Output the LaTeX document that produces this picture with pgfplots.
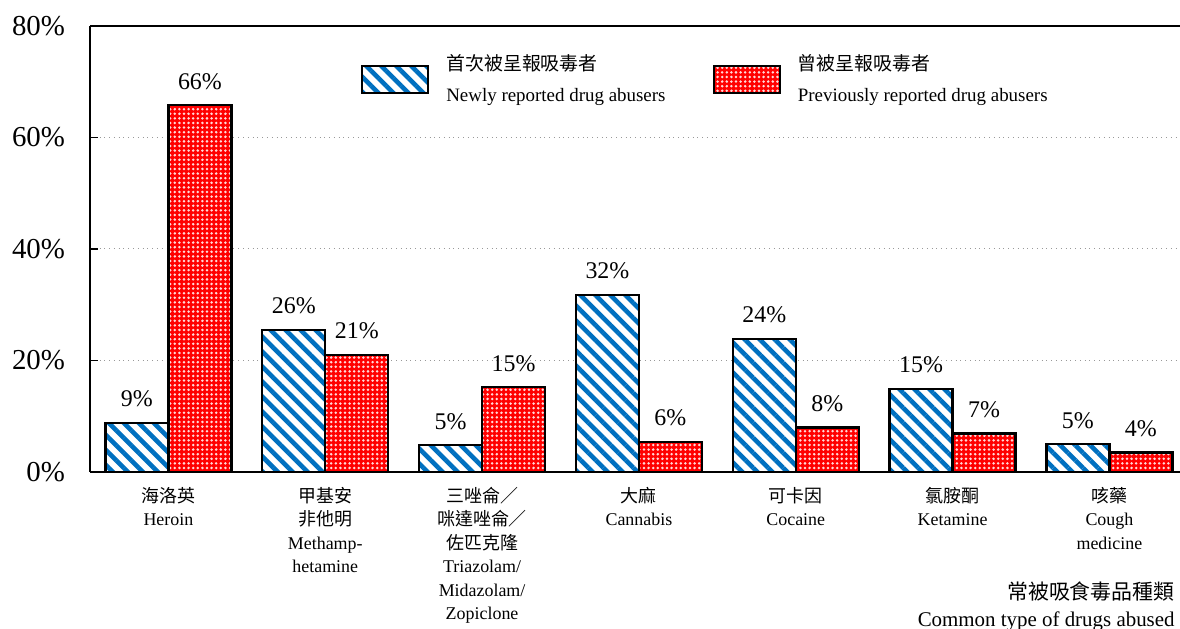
\documentclass[border=0pt]{standalone}
\usepackage{fontspec}
\setmainfont{Liberation Serif}
\newfontfamily\cjk{Noto Sans CJK TC}
\usepackage{pgfplots}
\pgfplotsset{compat=1.18}
\usetikzlibrary{patterns.meta,calc}
\definecolor{barblue}{HTML}{0070C0}
\definecolor{barred}{HTML}{FF0000}
\begin{document}
\begin{tikzpicture}
\begin{axis}[
  name=ax,
  scale only axis,
  width=545bp, height=223bp,
  xmin=-0.5, xmax=6.45,
  ymin=0, ymax=80,
  ybar=0pt, bar width=31.5bp,
  legend image code/.code={\draw[#1] (0bp,-6.75bp) rectangle (33bp,6.75bp);},
  axis x line*=box, axis y line*=left,
  axis line style={line width=1.2bp, -},
  ytick={0,20,40,60,80},
  yticklabels={0\%,20\%,40\%,60\%,80\%},
  yticklabel style={font=\fontsize{14.5}{16}\selectfont, xshift=-9bp},
  ymajorgrids, grid style={gray!80, dotted, line width=0.5bp},
  tick align=inside, major tick length=4bp,
  ytick style={line width=0.6bp, black},
  xtick={0,...,6},
  xtick style={draw=none},
  xticklabels={
    {{\cjk 海洛英}\\Heroin},
    {{\cjk 甲基安}\\{\cjk 非他明}\\Methamp-\\hetamine},
    {{\cjk 三唑侖／}\\{\cjk 咪達唑侖／}\\{\cjk 佐匹克隆}\\Triazolam/\\Midazolam/\\Zopiclone},
    {{\cjk 大麻}\\Cannabis},
    {{\cjk 可卡因}\\Cocaine},
    {{\cjk 氯胺酮}\\Ketamine},
    {{\cjk 咳藥}\\Cough\\medicine}},
  xticklabel style={align=center, font=\fontsize{9}{11.8}\selectfont, yshift=-4bp},
  nodes near coords, point meta=explicit symbolic,
  every node near coord/.append style={font=\fontsize{12}{14}\selectfont, anchor=base, yshift=8bp, inner sep=0pt, black},
  legend columns=2,
  legend cell align=left,
  legend style={draw=none, fill=none, at={(0.2427,0.947)}, anchor=north west,
    cells={align=left}, nodes={inner sep=0pt},
    font=\fontsize{9.5}{11}\selectfont,
    /tikz/every odd column/.append style={column sep=8.5bp},
    /tikz/every even column/.append style={column sep=23.5bp}},
]
\addplot[draw=black, line width=1.2bp, fill=white,
  postaction={pattern={Lines[angle=-45,distance=5.3bp,line width=2.3bp]}, pattern color=barblue}]
  coordinates {(0,8.8)[9\%] (1,25.5)[26\%] (2,4.8)[5\%] (3,31.8)[32\%] (4,23.9)[24\%] (5,14.9)[15\%] (6,5.0)[5\%]};
\addlegendentry{{\cjk 首次被呈報吸毒者}\\[5bp]Newly reported drug abusers}
\addplot[draw=black, line width=1.2bp, fill=barred,
  postaction={pattern={Dots[angle=0,distance=2.3bp,radius=0.7bp]}, pattern color=white!85!red}]
  coordinates {(0,65.8)[66\%] (1,21.0)[21\%] (2,15.2)[15\%] (3,5.4)[6\%] (4,8.0)[8\%] (5,6.9)[7\%] (6,3.5)[4\%]};
\addlegendentry{{\cjk 曾被呈報吸毒者}\\[5bp]Previously reported drug abusers}
\end{axis}
\node[anchor=south east, align=right, inner sep=0pt, font=\fontsize{10.5}{13.5}\selectfont]
  at ($(ax.south east)+(-2.5bp,-79.5bp)$) {{\cjk 常被吸食毒品種類}\\Common type of drugs abused};
\pgfresetboundingbox
\path[use as bounding box] ($(ax.south west)+(-45bp,-78.5bp)$) rectangle ($(ax.north east)+(0bp,13bp)$);
\end{tikzpicture}
\end{document}
